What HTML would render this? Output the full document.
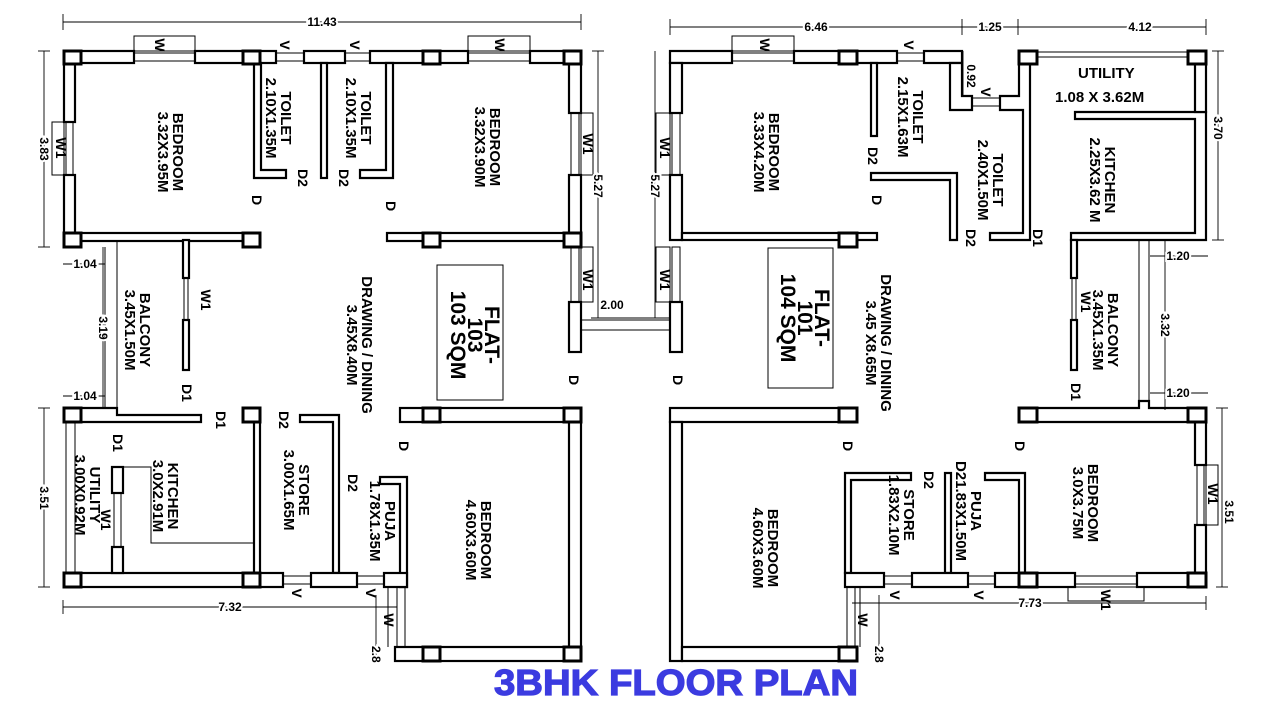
<!DOCTYPE html>
<html><head><meta charset="utf-8"><style>
html,body{margin:0;padding:0;background:#fff}
svg{display:block}
.w{fill:#fff;stroke:#000;stroke-width:2.2}
.p{fill:#fff;stroke:#000;stroke-width:3}
.t{fill:none;stroke:#000;stroke-width:1}
.d{fill:none;stroke:#000;stroke-width:0.9}
text{font-family:"Liberation Sans",Arial,sans-serif;font-weight:bold;fill:#000}
.l{font-size:15px}
.m{font-size:14px}
.n{font-size:12px;font-weight:bold;paint-order:stroke;stroke:#fff;stroke-width:4}
</style></head><body>
<svg width="1280" height="720" viewBox="0 0 1280 720" xmlns="http://www.w3.org/2000/svg">
<!-- ===== LEFT FLAT ===== -->
<rect class="w" x="64" y="51" width="70" height="12"/>
<rect class="w" x="195" y="51" width="81" height="12"/>
<rect class="w" x="304" y="51" width="41" height="12"/>
<rect class="w" x="370" y="51" width="98" height="12"/>
<rect class="w" x="530" y="51" width="51" height="12"/>
<rect class="t" x="134" y="53" width="61" height="8"/><rect class="t" x="134" y="36" width="61" height="15"/>
<rect class="t" x="468" y="53" width="62" height="8"/><rect class="t" x="468" y="36" width="62" height="15"/>
<rect class="t" x="276" y="53" width="28" height="8"/><rect class="t" x="345" y="53" width="25" height="8"/>
<rect class="w" x="64" y="63" width="11" height="59"/><rect class="w" x="64" y="175" width="11" height="60"/>
<rect class="t" x="66" y="122" width="7" height="53"/><rect class="t" x="52" y="122" width="12" height="53"/>
<rect class="w" x="569" y="63" width="12" height="50"/><rect class="w" x="569" y="175" width="12" height="60"/>
<rect class="t" x="571" y="113" width="8" height="62"/><rect class="t" x="581" y="113" width="12" height="62"/>
<rect class="w" x="64" y="233" width="196" height="8"/>
<rect class="w" x="387" y="233" width="194" height="8"/>
<path class="w" d="M254 63 H261 V170 H286 V178 H254 Z"/>
<rect class="w" x="321" y="63" width="6" height="115"/>
<path class="w" d="M386 63 H393 V178 H360 V170 H386 Z"/>
<rect class="t" x="571" y="247" width="8" height="55"/><rect class="t" x="581" y="247" width="12" height="55"/>
<rect class="w" x="569" y="302" width="12" height="50"/>
<line class="t" x1="581" y1="320" x2="670" y2="320"/><line class="t" x1="581" y1="330" x2="670" y2="330"/>
<line class="t" x1="105" y1="247" x2="105" y2="408"/><line class="t" x1="117" y1="240" x2="117" y2="408"/>
<rect class="w" x="183" y="240" width="6" height="38"/>
<rect class="t" x="184" y="278" width="4" height="42"/>
<rect class="w" x="183" y="320" width="6" height="50"/>
<path class="w" d="M64 408 H117 V415 H201 V422 H64 Z"/>
<rect class="w" x="254" y="422" width="6" height="151"/>
<path class="w" d="M300 415 H339 V573 H333 V422 H300 Z"/>
<path class="w" d="M380 477 H407 V587 H400 V484 H380 Z"/>
<rect class="w" x="64" y="573" width="219" height="14"/>
<rect class="w" x="311" y="573" width="46" height="14"/>
<rect class="w" x="384" y="573" width="23" height="14"/>
<rect class="t" x="283" y="576" width="28" height="8"/><rect class="t" x="357" y="576" width="27" height="8"/>
<line class="t" x1="66" y1="422" x2="66" y2="573"/><line class="t" x1="75" y1="422" x2="75" y2="573"/>
<rect class="w" x="112" y="467" width="11" height="26"/><rect class="t" x="114" y="493" width="7" height="54"/>
<rect class="w" x="112" y="547" width="11" height="26"/>
<path class="t" d="M123 467 H151 V543 H254"/>
<rect class="w" x="400" y="408" width="181" height="14"/>
<rect class="w" x="569" y="422" width="12" height="225"/>
<rect class="w" x="395" y="647" width="186" height="14"/>
<rect class="t" x="397" y="587" width="8" height="60"/><line class="t" x1="388" y1="587" x2="388" y2="647"/>
<rect class="p" x="64" y="51" width="17" height="13"/><rect class="p" x="243" y="51" width="17" height="13"/>
<rect class="p" x="423" y="51" width="17" height="13"/><rect class="p" x="564" y="51" width="17" height="13"/>
<rect class="p" x="64" y="233" width="17" height="14"/><rect class="p" x="243" y="233" width="17" height="14"/>
<rect class="p" x="423" y="233" width="17" height="14"/><rect class="p" x="564" y="233" width="17" height="14"/>
<rect class="p" x="64" y="408" width="17" height="14"/><rect class="p" x="243" y="408" width="17" height="14"/>
<rect class="p" x="423" y="408" width="17" height="14"/><rect class="p" x="564" y="408" width="17" height="14"/>
<rect class="p" x="64" y="573" width="17" height="14"/><rect class="p" x="243" y="573" width="17" height="14"/>
<rect class="p" x="423" y="647" width="17" height="14"/><rect class="p" x="564" y="647" width="17" height="14"/>
<rect class="t" x="437" y="265" width="66" height="135"/>

<!-- ===== RIGHT FLAT ===== -->
<rect class="w" x="670" y="51" width="62" height="12"/>
<rect class="w" x="794" y="51" width="103" height="12"/>
<rect class="w" x="924" y="51" width="38" height="12"/>
<rect class="t" x="732" y="53" width="62" height="8"/><rect class="t" x="732" y="36" width="62" height="15"/>
<rect class="t" x="897" y="53" width="27" height="8"/>
<rect class="w" x="670" y="63" width="12" height="50"/><rect class="w" x="670" y="175" width="12" height="65"/>
<rect class="t" x="672" y="113" width="8" height="62"/><rect class="t" x="656" y="113" width="14" height="62"/>
<rect class="t" x="672" y="247" width="8" height="55"/><rect class="t" x="656" y="247" width="14" height="55"/>
<rect class="w" x="670" y="302" width="12" height="50"/>
<rect class="w" x="682" y="233" width="195" height="7"/>
<rect class="w" x="871" y="63" width="6" height="73"/>
<path class="w" d="M871 173 H957 V240 H950 V180 H871 Z"/>
<path class="w" d="M950 63 H962 V96 H972 V110 H950 Z"/>
<rect class="t" x="972" y="98" width="28" height="8"/>
<path class="w" d="M1019 63 H1030 V240 H990 V233 H1023 V110 H1000 V96 H1019 Z"/>
<line class="t" x1="1037" y1="52" x2="1188" y2="52"/><line class="t" x1="1037" y1="57" x2="1188" y2="57"/>
<path class="w" d="M1075 112 H1206 V240 H1071 V233 H1195 V225 H1195 V119 H1075 Z"/>
<rect class="w" x="1195" y="63" width="11" height="49"/>
<rect class="w" x="1071" y="240" width="6" height="38"/>
<rect class="t" x="1072" y="278" width="4" height="42"/>
<rect class="w" x="1071" y="320" width="6" height="50"/>
<line class="t" x1="1139" y1="240" x2="1139" y2="408"/><line class="t" x1="1149" y1="240" x2="1149" y2="408"/>
<rect class="w" x="670" y="408" width="187" height="14"/>
<rect class="w" x="670" y="422" width="12" height="239"/>
<rect class="w" x="682" y="647" width="175" height="14"/>
<path class="w" d="M1019 408 H1139 V401 H1149 V408 H1206 V422 H1019 Z"/>
<rect class="w" x="1195" y="422" width="11" height="43"/><rect class="w" x="1195" y="525" width="11" height="48"/>
<rect class="t" x="1197" y="465" width="7" height="60"/><rect class="t" x="1206" y="465" width="12" height="60"/>
<path class="w" d="M845 473 H911 V480 H851 V573 H845 Z"/>
<rect class="w" x="945" y="473" width="6" height="100"/>
<path class="w" d="M985 473 H1025 V573 H1019 V480 H985 Z"/>
<rect class="w" x="845" y="573" width="39" height="14"/>
<rect class="w" x="912" y="573" width="56" height="14"/>
<rect class="w" x="995" y="573" width="80" height="14"/>
<rect class="w" x="1137" y="573" width="69" height="14"/>
<rect class="t" x="884" y="576" width="28" height="8"/><rect class="t" x="968" y="576" width="27" height="8"/>
<rect class="t" x="1075" y="576" width="62" height="8"/><rect class="t" x="1068" y="587" width="76" height="14"/>
<rect class="t" x="847" y="587" width="8" height="60"/><line class="t" x1="860" y1="587" x2="860" y2="647"/>
<rect class="p" x="839" y="51" width="18" height="13"/><rect class="p" x="1019" y="51" width="18" height="13"/>
<rect class="p" x="1188" y="51" width="18" height="13"/>
<rect class="p" x="839" y="233" width="18" height="14"/>
<rect class="p" x="839" y="408" width="18" height="14"/><rect class="p" x="1019" y="408" width="18" height="14"/>
<rect class="p" x="1188" y="408" width="18" height="14"/>
<rect class="p" x="1019" y="573" width="18" height="14"/><rect class="p" x="1188" y="573" width="18" height="14"/>
<rect class="p" x="839" y="647" width="18" height="14"/>
<rect class="t" x="768" y="248" width="65" height="140"/>

<!-- ===== DIMENSION LINES ===== -->
<g class="d">
<line x1="63" y1="22" x2="581" y2="22"/><line x1="63" y1="14" x2="63" y2="30"/><line x1="581" y1="14" x2="581" y2="30"/>
<line x1="670" y1="27" x2="1206" y2="27"/><line x1="670" y1="19" x2="670" y2="35"/><line x1="962" y1="19" x2="962" y2="35"/><line x1="1018" y1="19" x2="1018" y2="35"/><line x1="1206" y1="19" x2="1206" y2="35"/>
<line x1="44" y1="51" x2="44" y2="247"/><line x1="38" y1="51" x2="50" y2="51"/><line x1="38" y1="247" x2="50" y2="247"/>
<line x1="598" y1="51" x2="598" y2="318"/><line x1="592" y1="51" x2="604" y2="51"/>
<line x1="655" y1="51" x2="655" y2="318"/>
<line x1="591" y1="318" x2="670" y2="318"/>
<line x1="103" y1="247" x2="103" y2="408"/>
<line x1="63" y1="264" x2="105" y2="264"/><line x1="63" y1="396" x2="105" y2="396"/>
<line x1="44" y1="408" x2="44" y2="587"/><line x1="38" y1="408" x2="50" y2="408"/><line x1="38" y1="587" x2="50" y2="587"/>
<line x1="63" y1="607" x2="397" y2="607"/><line x1="63" y1="600" x2="63" y2="614"/><line x1="397" y1="600" x2="397" y2="614"/>
<line x1="376" y1="595" x2="376" y2="660"/>
<line x1="1218" y1="51" x2="1218" y2="240"/><line x1="1212" y1="51" x2="1224" y2="51"/><line x1="1212" y1="240" x2="1224" y2="240"/>
<line x1="1165" y1="240" x2="1165" y2="410"/>
<line x1="1150" y1="256" x2="1208" y2="256"/><line x1="1150" y1="393" x2="1208" y2="393"/>
<line x1="1222" y1="408" x2="1222" y2="587"/><line x1="1216" y1="408" x2="1228" y2="408"/><line x1="1216" y1="587" x2="1228" y2="587"/>
<line x1="852" y1="603" x2="1206" y2="603"/><line x1="1206" y1="596" x2="1206" y2="610"/>
<line x1="879" y1="595" x2="879" y2="660"/>
<line x1="963" y1="51" x2="963" y2="96"/>
</g>
<text class="n" x="322" y="26" text-anchor="middle">11.43</text>
<text class="n" x="816" y="31" text-anchor="middle">6.46</text>
<text class="n" x="990" y="31" text-anchor="middle">1.25</text>
<text class="n" x="1140" y="31" text-anchor="middle">4.12</text>
<text class="n" x="85" y="268" text-anchor="middle">1.04</text>
<text class="n" x="85" y="400" text-anchor="middle">1.04</text>
<text class="n" x="612" y="309" text-anchor="middle">2.00</text>
<text class="n" x="230" y="611" text-anchor="middle">7.32</text>
<text class="n" x="1030" y="607" text-anchor="middle">7.73</text>
<text class="n" x="1178" y="260" text-anchor="middle">1.20</text>
<text class="n" x="1178" y="397" text-anchor="middle">1.20</text>
<text class="n" transform="translate(40,149) rotate(90)" text-anchor="middle">3.83</text>
<text class="n" transform="translate(40,498) rotate(90)" text-anchor="middle">3.51</text>
<text class="n" transform="translate(99,328) rotate(90)" text-anchor="middle">3.19</text>
<text class="n" transform="translate(594,186) rotate(90)" text-anchor="middle">5.27</text>
<text class="n" transform="translate(651,186) rotate(90)" text-anchor="middle">5.27</text>
<text class="n" transform="translate(1214,128) rotate(90)" text-anchor="middle">3.70</text>
<text class="n" transform="translate(1161,325) rotate(90)" text-anchor="middle">3.32</text>
<text class="n" transform="translate(1225,512) rotate(90)" text-anchor="middle">3.51</text>
<text class="n" transform="translate(967,76) rotate(90)" text-anchor="middle">0.92</text>
<text class="n" transform="translate(372,646) rotate(90)">2.8</text>
<text class="n" transform="translate(875,646) rotate(90)">2.8</text>

<!-- ===== ROOM LABELS ===== -->
<g class="l" text-anchor="middle">
<text transform="translate(170,152) rotate(90)"><tspan x="0" y="-3">BEDROOM</tspan><tspan x="0" y="12">3.32X3.95M</tspan></text>
<text transform="translate(278,118) rotate(90)"><tspan x="0" y="-3">TOILET</tspan><tspan x="0" y="12">2.10X1.35M</tspan></text>
<text transform="translate(358,118) rotate(90)"><tspan x="0" y="-3">TOILET</tspan><tspan x="0" y="12">2.10X1.35M</tspan></text>
<text transform="translate(487,147) rotate(90)"><tspan x="0" y="-3">BEDROOM</tspan><tspan x="0" y="12">3.32X3.90M</tspan></text>
<text transform="translate(137,330) rotate(90)"><tspan x="0" y="-3">BALCONY</tspan><tspan x="0" y="12">3.45X1.50M</tspan></text>
<text transform="translate(359,345) rotate(90)"><tspan x="0" y="-3">DRAWING / DINING</tspan><tspan x="0" y="12">3.45X8.40M</tspan></text>
<text transform="translate(165,496) rotate(90)"><tspan x="0" y="-3">KITCHEN</tspan><tspan x="0" y="12">3.0X2.91M</tspan></text>
<text transform="translate(87,495) rotate(90)"><tspan x="0" y="-3">UTILITY</tspan><tspan x="0" y="12">3.00X0.92M</tspan></text>
<text transform="translate(296,490) rotate(90)"><tspan x="0" y="-3">STORE</tspan><tspan x="0" y="12">3.00X1.65M</tspan></text>
<text transform="translate(382,521) rotate(90)"><tspan x="0" y="-3">PUJA</tspan><tspan x="0" y="12">1.78X1.35M</tspan></text>
<text transform="translate(478,540) rotate(90)"><tspan x="0" y="-3">BEDROOM</tspan><tspan x="0" y="12">4.60X3.60M</tspan></text>
<text transform="translate(766,152) rotate(90)"><tspan x="0" y="-3">BEDROOM</tspan><tspan x="0" y="12">3.33X4.20M</tspan></text>
<text transform="translate(910,117) rotate(90)"><tspan x="0" y="-3">TOILET</tspan><tspan x="0" y="12">2.15X1.63M</tspan></text>
<text transform="translate(990,180) rotate(90)"><tspan x="0" y="-3">TOILET</tspan><tspan x="0" y="12">2.40X1.50M</tspan></text>
<text transform="translate(1102,180) rotate(90)"><tspan x="0" y="-3">KITCHEN</tspan><tspan x="0" y="12">2.25X3.62 M</tspan></text>
<text transform="translate(878,343) rotate(90)"><tspan x="0" y="-3">DRAWING / DINING</tspan><tspan x="0" y="12">3.45 X8.65M</tspan></text>
<text transform="translate(1105,330) rotate(90)"><tspan x="0" y="-3">BALCONY</tspan><tspan x="0" y="12">3.45X1.35M</tspan></text>
<text transform="translate(901,515) rotate(90)"><tspan x="0" y="-3">STORE</tspan><tspan x="0" y="12">1.83X2.10M</tspan></text>
<text transform="translate(968,511) rotate(90)"><tspan x="0" y="-3">PUJA</tspan><tspan x="0" y="12">D21.83X1.50M</tspan></text>
<text transform="translate(765,548) rotate(90)"><tspan x="0" y="-3">BEDROOM</tspan><tspan x="0" y="12">4.60X3.60M</tspan></text>
<text transform="translate(1085,503) rotate(90)"><tspan x="0" y="-3">BEDROOM</tspan><tspan x="0" y="12">3.0X3.75M</tspan></text>
</g>
<g style="font-size:21px" text-anchor="middle">
<text transform="translate(470,335) rotate(90)"><tspan x="0" y="-15">FLAT-</tspan><tspan x="0" y="2">103</tspan><tspan x="0" y="19">103 SQM</tspan></text>
<text transform="translate(800,318) rotate(90)"><tspan x="0" y="-15">FLAT-</tspan><tspan x="0" y="2">101</tspan><tspan x="0" y="19">104 SQM</tspan></text>
</g>
<text x="1078" y="78" style="font-size:15px">UTILITY</text>
<text x="1055" y="102" style="font-size:15px">1.08 X 3.62M</text>

<g class="m" text-anchor="middle">
<text transform="translate(252,200) rotate(90)">D</text>
<text transform="translate(298,178) rotate(90)">D2</text>
<text transform="translate(339,178) rotate(90)">D2</text>
<text transform="translate(386,206) rotate(90)">D</text>
<text transform="translate(280,45) rotate(90)">V</text>
<text transform="translate(350,45) rotate(90)">V</text>
<text transform="translate(155,45) rotate(90)">W</text>
<text transform="translate(495,45) rotate(90)">W</text>
<text transform="translate(56,148) rotate(90)">W1</text>
<text transform="translate(583,144) rotate(90)">W1</text>
<text transform="translate(583,280) rotate(90)">W1</text>
<text transform="translate(201,300) rotate(90)">W1</text>
<text transform="translate(182,393) rotate(90)">D1</text>
<text transform="translate(216,420) rotate(90)">D1</text>
<text transform="translate(279,420) rotate(90)">D2</text>
<text transform="translate(113,443) rotate(90)">D1</text>
<text transform="translate(101,520) rotate(90)">W1</text>
<text transform="translate(348,483) rotate(90)">D2</text>
<text transform="translate(399,446) rotate(90)">D</text>
<text transform="translate(569,380) rotate(90)">D</text>
<text transform="translate(292,593) rotate(90)">V</text>
<text transform="translate(366,593) rotate(90)">V</text>
<text transform="translate(384,620) rotate(90)">W</text>
<text transform="translate(760,45) rotate(90)">W</text>
<text transform="translate(904,45) rotate(90)">V</text>
<text transform="translate(981,92) rotate(90)">V</text>
<text transform="translate(660,148) rotate(90)">W1</text>
<text transform="translate(660,280) rotate(90)">W1</text>
<text transform="translate(868,156) rotate(90)">D2</text>
<text transform="translate(872,200) rotate(90)">D</text>
<text transform="translate(966,238) rotate(90)">D2</text>
<text transform="translate(1033,238) rotate(90)">D1</text>
<text transform="translate(1081,302) rotate(90)">W1</text>
<text transform="translate(1071,392) rotate(90)">D1</text>
<text transform="translate(673,380) rotate(90)">D</text>
<text transform="translate(843,446) rotate(90)">D</text>
<text transform="translate(1015,446) rotate(90)">D</text>
<text transform="translate(924,480) rotate(90)">D2</text>
<text transform="translate(1208,494) rotate(90)">W1</text>
<text transform="translate(890,595) rotate(90)">V</text>
<text transform="translate(974,595) rotate(90)">V</text>
<text transform="translate(1101,600) rotate(90)">W1</text>
<text transform="translate(858,620) rotate(90)">W</text>
</g>

<text x="676" y="695" text-anchor="middle" textLength="364" lengthAdjust="spacingAndGlyphs" style="font-size:36px;font-weight:900;fill:#3b3be0;stroke:#3b3be0;stroke-width:1.2">3BHK FLOOR PLAN</text>
</svg>
</body></html>
